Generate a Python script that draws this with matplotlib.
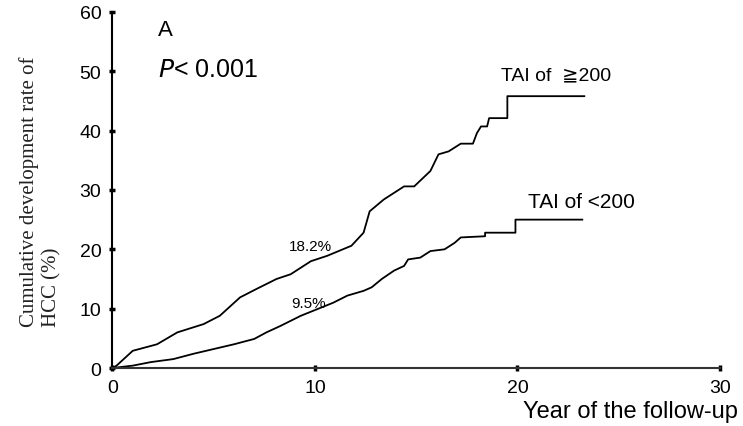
import matplotlib; matplotlib.use("Agg")
import matplotlib.pyplot as plt

# cumulative HCC development (%) by year of follow-up
hi_x = [0, 0.2, 1.0, 2.2, 3.2, 4.5, 5.3, 6.3, 7.1, 8.1, 8.8, 9.8, 10.6, 11.8, 12.4, 12.7,
        13.4, 14.4, 14.9, 15.7, 16.1, 16.6, 17.2, 17.8, 18.0, 18.2, 18.5, 18.6, 19.5, 19.5, 23.3]
hi_y = [0, 0.4, 2.9, 4.0, 6.0, 7.4, 8.8, 11.9, 13.3, 15.0, 15.8, 18.0, 18.9, 20.6, 22.8, 26.4,
        28.4, 30.6, 30.6, 33.2, 36.0, 36.5, 37.8, 37.8, 39.6, 40.7, 40.7, 42.1, 42.1, 45.8, 45.8]
lo_x = [0, 1.0, 1.9, 3.0, 4.0, 5.0, 6.0, 7.0, 7.6, 8.3, 9.3, 10.1, 10.9, 11.6, 12.4, 12.8,
        13.3, 13.9, 14.4, 14.6, 15.2, 15.7, 16.4, 16.9, 17.2, 18.4, 18.4, 19.9, 19.9, 23.2]
lo_y = [0, 0.4, 1.0, 1.5, 2.4, 3.2, 4.0, 4.9, 6.0, 7.1, 8.8, 9.9, 11.0, 12.2, 13.0, 13.6,
        15.0, 16.4, 17.2, 18.3, 18.6, 19.7, 20.0, 21.1, 22.0, 22.2, 22.8, 22.8, 25.0, 25.0]
xticks = [0, 10, 20, 30]
yticks = [0, 10, 20, 30, 40, 50, 60]

SANS = ["Liberation Sans", "DejaVu Sans"]
fig = plt.figure(figsize=(7.43, 4.27), dpi=100)
ax = fig.add_axes([0.1514, 0.1358, 0.8176, 0.834])

ax.plot(hi_x, hi_y, color="black", lw=1.3)
ax.plot(lo_x, lo_y, color="black", lw=1.3)

ax.set_xlim(0, 30); ax.set_ylim(0, 60)
ax.set_xticks(xticks); ax.set_yticks(yticks)
for s in ("top", "right"): ax.spines[s].set_visible(False)
ax.spines["left"].set_linewidth(1.5)
ax.spines["bottom"].set_linewidth(1.5); ax.spines["bottom"].set_color("#333333")
ax.tick_params(direction="inout", length=4, width=2.5, labelsize=14, pad=6)
for lab in ax.get_xticklabels() + ax.get_yticklabels():
    lab.set_family(SANS)

ax.text(2.25, 57.1, "A", fontsize=16, family=SANS, va="center")
ax.text(2.25, 50.3, "$\\mathit{P}$< 0.001", fontsize=18, family=SANS, va="center")
ax.text(19.2, 49.4, "TAI of  \u2267200", fontsize=14, family=SANS, va="center")
ax.text(20.5, 28.0, "TAI of <200", fontsize=15, family=SANS, va="center")
ax.text(9.8, 20.6, "18.2%", fontsize=11, family=SANS, ha="center", va="center")
ax.text(9.7, 10.9, "9.5%", fontsize=11, family=SANS, ha="center", va="center")

fig.text(0.054, 0.234, "Cumulative development rate of\nHCC (%)", rotation=90,
         family="Liberation Serif", fontsize=15, color="#222222",
         ha="center", va="bottom", multialignment="left", linespacing=1.2)
fig.text(0.993, 0.035, "Year of the follow-up", family=SANS, fontsize=17,
         ha="right", va="center")

fig.savefig("out.png", dpi=100)
